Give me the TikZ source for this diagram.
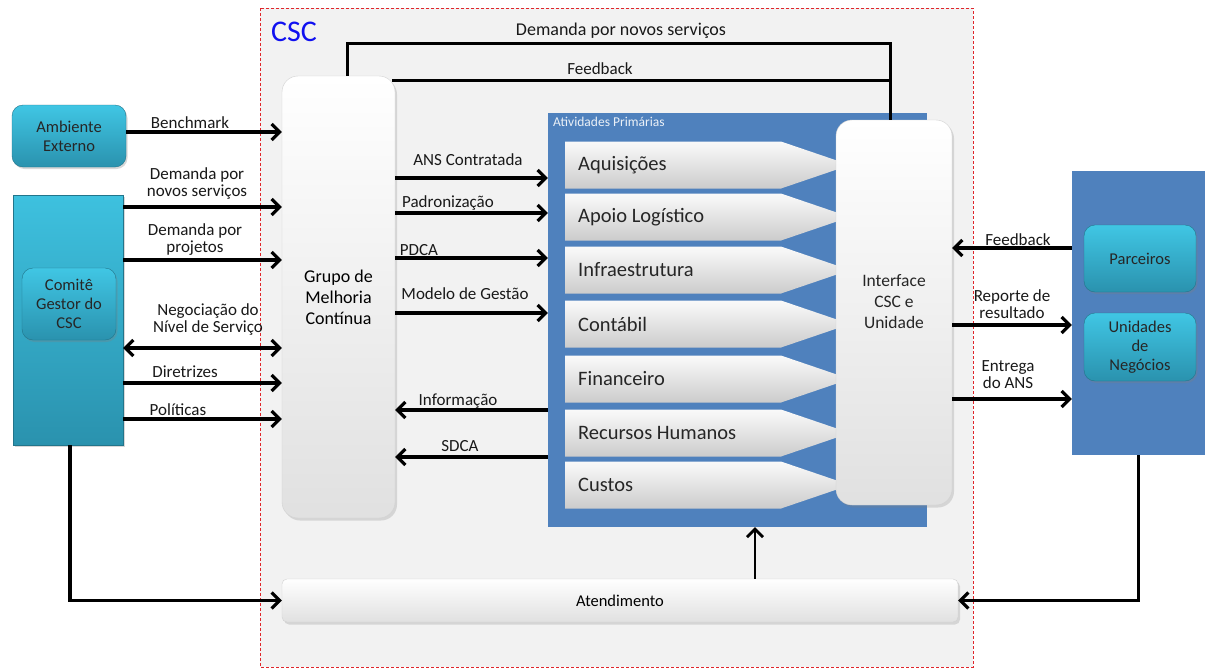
\documentclass[tikz,border=0pt]{standalone}
\usepackage{fontspec}
\setmainfont{Carlito}
\usetikzlibrary{arrows.meta,shadows}
\definecolor{cscgray}{HTML}{F2F2F2}
\definecolor{apblue}{HTML}{4F81BD}
\definecolor{tealtop}{HTML}{40C6E4}
\definecolor{tealbot}{HTML}{2A92AE}
\definecolor{dashred}{HTML}{E0262B}
\definecolor{cscblue}{HTML}{1010F0}
\begin{document}
\begin{tikzpicture}[x=1pt,y=-1pt,
  flow/.style={line width=3.2pt,-{Straight Barb[length=8pt,width=16pt]}},
  biflow/.style={line width=3.2pt,{Straight Barb[length=8pt,width=16pt]}-{Straight Barb[length=8pt,width=16pt]}},
  plain/.style={line width=3pt},
  lbl/.style={font=\fontsize{17}{17}\selectfont,align=center,inner sep=0pt,text=black!90},
  graybox/.style={draw=gray!35,rounded corners=16pt,top color=white,bottom color=gray!24,
     drop shadow={opacity=0.25,shadow xshift=2pt,shadow yshift=-2.5pt},align=center,inner sep=2pt},
  tealbox/.style={draw=tealbot!80!black,rounded corners=11pt,top color=tealtop,bottom color=tealbot,
     drop shadow={opacity=0.3,shadow xshift=1.5pt,shadow yshift=-2pt},align=center,
     font=\fontsize{16.5}{19}\selectfont,text=black!85,inner sep=2pt},
  actshade/.style={top color=white!96!gray,bottom color=gray!40},
  acttext/.style={font=\fontsize{20.5}{21}\selectfont,text=black!85,inner sep=0pt}
]
\useasboundingbox (0,0) rectangle (1205,670);
\fill[white] (0,0) rectangle (1205,670);

% CSC container
\draw[dashred,line width=0.9pt,dash pattern=on 3pt off 2pt,fill=cscgray] (260,8) rectangle (973,667);
\node[text=cscblue,font=\fontsize{30}{30}\selectfont,inner sep=0pt] (csc) at (294,32) {CSC};

% left side
\node[tealbox] (amb) at (69,136) [minimum width=114,minimum height=62] {Ambiente\\Externo};
\node[draw=tealbot!80!black,top color=tealtop!90!tealbot,bottom color=tealbot,
      drop shadow={opacity=0.3,shadow xshift=1.5pt,shadow yshift=-2pt},
      minimum width=110,minimum height=250] (combg) at (68,320) {};
\node[tealbox,minimum width=94,minimum height=72] (comite) at (69,304) {Comitê\\Gestor do\\CSC};

% Grupo de melhoria
\node[graybox,minimum width=113,minimum height=442,font=\fontsize{18}{21}\selectfont] (gmc) at (338.5,297) {Grupo de\\Melhoria\\Contínua};

% Atividades primarias
\node[fill=apblue,minimum width=379,minimum height=414,inner sep=0pt] (apbox) at (737.5,320) {};
\node[anchor=west,text=white!88!apblue,font=\fontsize{13.5}{13.5}\selectfont,inner sep=0pt] (aplbl) at (553,122) {Atividades Primárias};

\foreach \t/\yc [count=\i] in {Aquisições/165,Apoio Logístico/217,Infraestrutura/270,Contábil/324,Financeiro/379,Recursos Humanos/433,Custos/485}{
  \shade[actshade] (565,\yc-23.5) -- (781,\yc-23.5) -- (850,\yc) -- (781,\yc+23.5) -- (565,\yc+23.5) -- cycle;
  \node[acttext,anchor=west] (act\i) at (578,\yc) {\t};
}

% Interface
\node[graybox,minimum width=116,minimum height=385] (iface) at (894,312.5) {};
\node[align=center,font=\fontsize{17.5}{21}\selectfont,text=black!85,inner sep=0pt] (ifacetxt) at (894,302) {Interface\\CSC e\\Unidade};

% Right side
\node[fill=apblue,minimum width=133,minimum height=284,inner sep=0pt] (rightbg) at (1138.5,313) {};
\node[tealbox,minimum width=112,minimum height=67] (parc) at (1140,258.5) {Parceiros};
\node[tealbox,minimum width=112,minimum height=68] (unid) at (1140,347) {Unidades\\de\\Negócios};

% Atendimento
\node[graybox,rounded corners=5pt,minimum width=676,minimum height=43,font=\fontsize{16.5}{18}\selectfont] (atend) at (620,600.5) {Atendimento};

% top loop lines
\draw[plain] (347,0 |- gmc.north) -- (347,43) -- (890,43) -- (890,0 |- iface.north);
\draw[plain] (392,80) -- (890,80);
\node[lbl,font=\fontsize{18}{18}\selectfont] (l-dns) at (621,31) {Demanda por novos serviços};
\node[lbl] (l-fb1) at (600,69) {Feedback};

% left connectors
\draw[flow] (amb.east |- 0,132) -- (gmc.west |- 0,132);
\draw[flow] (combg.east |- 0,207) -- (gmc.west |- 0,207);
\draw[flow] (combg.east |- 0,260) -- (gmc.west |- 0,260);
\draw[biflow] (combg.east |- 0,348) -- (gmc.west |- 0,348);
\draw[flow] (combg.east |- 0,383) -- (gmc.west |- 0,383);
\draw[flow] (combg.east |- 0,419) -- (gmc.west |- 0,419);
\node[lbl] (l-bench) at (190,123) {Benchmark};
\node[lbl] (l-dns2) at (197,184) {Demanda por\\novos serviços};
\node[lbl] (l-dp) at (195,240) {Demanda por\\projetos};
\node[lbl] (l-neg) at (208,320) {Negociação do\\Nível de Serviço};
\node[lbl] (l-dir) at (185,372) {Diretrizes};
\node[lbl] (l-pol) at (178,410) {Políticas};

% middle connectors
\draw[flow] (gmc.east |- 0,178) -- (apbox.west |- 0,178);
\draw[flow] (gmc.east |- 0,213) -- (apbox.west |- 0,213);
\draw[flow] (gmc.east |- 0,258) -- (apbox.west |- 0,258);
\draw[flow] (gmc.east |- 0,313) -- (apbox.west |- 0,313);
\draw[flow] (apbox.west |- 0,410) -- (gmc.east |- 0,410);
\draw[flow] (apbox.west |- 0,457) -- (gmc.east |- 0,457);
\node[lbl] (l-ans) at (468,160) {ANS Contratada};
\node[lbl] (l-pad) at (448,203) {Padronização};
\node[lbl] (l-pdca) at (419,250) {PDCA};
\node[lbl] (l-mod) at (465,294) {Modelo de Gestão};
\node[lbl] (l-inf) at (458,401) {Informação};
\node[lbl] (l-sdca) at (460,446) {SDCA};

% right connectors
\draw[flow] (rightbg.west |- 0,248) -- (iface.east |- 0,248);
\draw[flow] (iface.east |- 0,325) -- (rightbg.west |- 0,325);
\draw[flow] (iface.east |- 0,399) -- (rightbg.west |- 0,399);
\node[lbl] (l-fb2) at (1018,240) {Feedback};
\node[lbl] (l-rep) at (1012,304) {Reporte de\\resultado};
\node[lbl] (l-ent) at (1008,375) {Entrega\\do ANS};

% bottom connectors
\draw[flow] (combg.south -| 70,0) -- (70,0 |- atend.west) -- (atend.west);
\draw[flow] (rightbg.south) -- (rightbg.south |- atend.east) -- (atend.east);
\draw[flow,line width=2.8pt] (atend.north -| 755,0) -- (apbox.south -| 755,0);
\end{tikzpicture}
\end{document}
